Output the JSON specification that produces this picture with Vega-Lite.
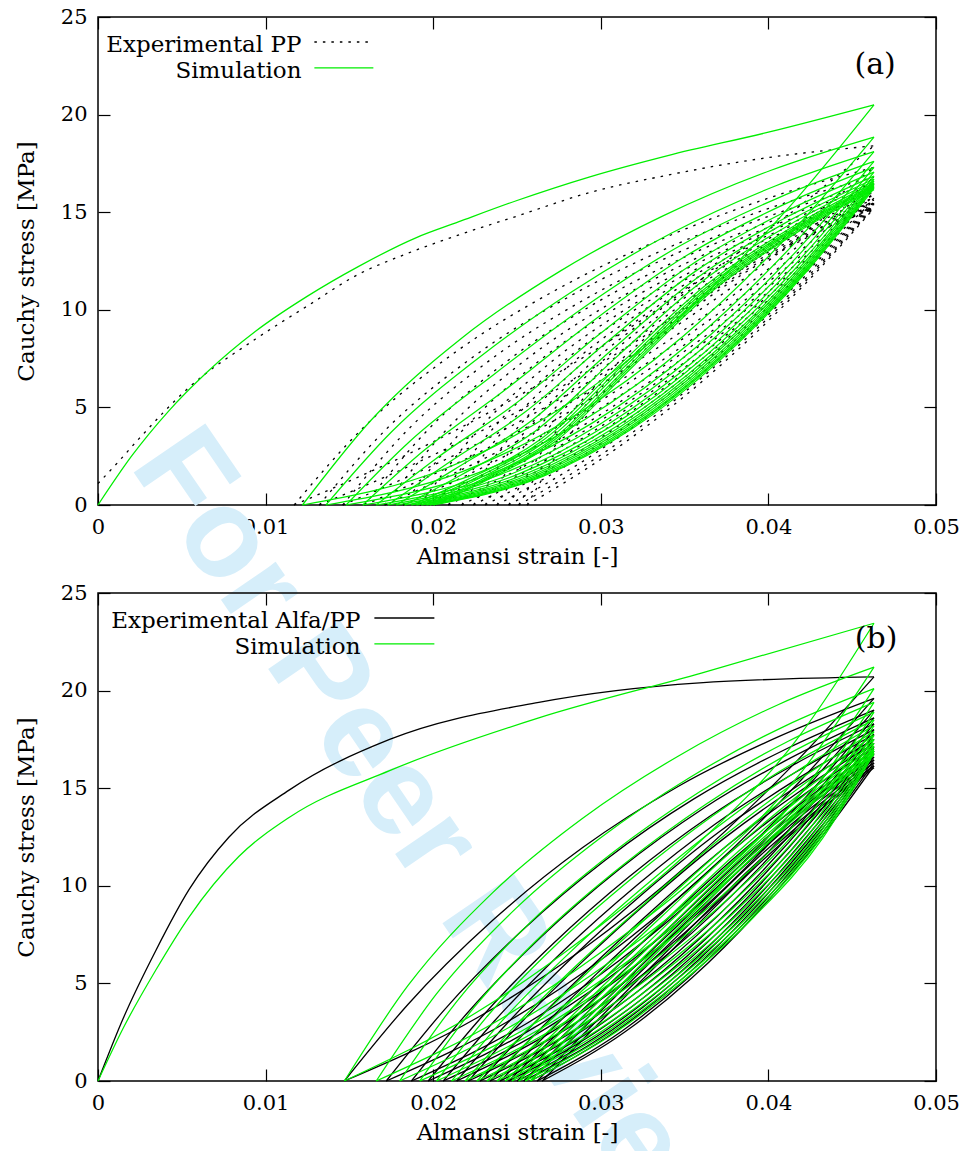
{
"$schema": "https://vega.github.io/schema/vega-lite/v6.json",
"background": "white",
"padding": {"left": 14, "top": 5, "right": 5, "bottom": 5},
"spacing": 88,
"bounds": "flush",
"config": {
  "view": {"stroke": "black", "strokeWidth": 1.5},
  "axis": {"grid": false, "domain": false, "ticks": true, "tickSize": -12, "tickColor": "black", "tickWidth": 1.2, "labelFont": "DejaVu Serif", "labelFontSize": 21, "labelColor": "black", "labelPadding": 23, "labelFlush": false, "titleFont": "DejaVu Serif", "titleFontSize": 23, "titleFontWeight": "normal", "titleColor": "black"},
  "text": {"font": "DejaVu Serif"}
},
"datasets": {
"a_sim": [
{"leg":0,"strain":0,"stress":0},{"leg":0,"strain":0.002,"stress":2.5},{"leg":0,"strain":0.0042,"stress":4.8},{"leg":0,"strain":0.0065,"stress":6.8},{"leg":0,"strain":0.0094,"stress":8.9},{"leg":0,"strain":0.0125,"stress":10.7},{"leg":0,"strain":0.0155,"stress":12.2},{"leg":0,"strain":0.019,"stress":13.7},{"leg":0,"strain":0.0215,"stress":14.5},{"leg":0,"strain":0.025,"stress":15.6},{"leg":0,"strain":0.0293,"stress":16.8},{"leg":0,"strain":0.034,"stress":17.9},{"leg":0,"strain":0.04,"stress":19.1},{"leg":0,"strain":0.0463,"stress":20.5},
{"leg":1,"strain":0.0463,"stress":20.5},{"leg":1,"strain":0.04119,"stress":15.21},{"leg":1,"strain":0.03437,"stress":9.37},{"leg":1,"strain":0.02755,"stress":4.92},{"leg":1,"strain":0.02073,"stress":1.87},{"leg":1,"strain":0.0122,"stress":0},
{"leg":2,"strain":0.0122,"stress":0},{"leg":2,"strain":0.01629,"stress":4.34},{"leg":2,"strain":0.02175,"stress":8.58},{"leg":2,"strain":0.02755,"stress":11.97},{"leg":2,"strain":0.03368,"stress":14.8},{"leg":2,"strain":0.04016,"stress":17.15},{"leg":2,"strain":0.0463,"stress":18.85},
{"leg":3,"strain":0.0463,"stress":18.85},{"leg":3,"strain":0.0414,"stress":13.99},{"leg":3,"strain":0.03486,"stress":8.61},{"leg":3,"strain":0.02832,"stress":4.52},{"leg":3,"strain":0.02178,"stress":1.72},{"leg":3,"strain":0.0136,"stress":0},
{"leg":4,"strain":0.0136,"stress":0},{"leg":4,"strain":0.01752,"stress":3.75},{"leg":4,"strain":0.02276,"stress":7.57},{"leg":4,"strain":0.02832,"stress":10.95},{"leg":4,"strain":0.0342,"stress":13.92},{"leg":4,"strain":0.04041,"stress":16.34},{"leg":4,"strain":0.0463,"stress":18.1},
{"leg":5,"strain":0.0463,"stress":18.1},{"leg":5,"strain":0.04158,"stress":13.43},{"leg":5,"strain":0.03528,"stress":8.27},{"leg":5,"strain":0.02898,"stress":4.34},{"leg":5,"strain":0.02268,"stress":1.65},{"leg":5,"strain":0.0148,"stress":0},
{"leg":6,"strain":0.0148,"stress":0},{"leg":6,"strain":0.01858,"stress":3.24},{"leg":6,"strain":0.02362,"stress":6.69},{"leg":6,"strain":0.02898,"stress":10.12},{"leg":6,"strain":0.03465,"stress":13.24},{"leg":6,"strain":0.04063,"stress":15.75},{"leg":6,"strain":0.0463,"stress":17.6},
{"leg":7,"strain":0.0463,"stress":17.6},{"leg":7,"strain":0.04173,"stress":13.06},{"leg":7,"strain":0.03563,"stress":8.04},{"leg":7,"strain":0.02953,"stress":4.22},{"leg":7,"strain":0.02343,"stress":1.6},{"leg":7,"strain":0.0158,"stress":0},
{"leg":8,"strain":0.0158,"stress":0},{"leg":8,"strain":0.01946,"stress":2.8},{"leg":8,"strain":0.02434,"stress":5.93},{"leg":8,"strain":0.02953,"stress":9.43},{"leg":8,"strain":0.03502,"stress":12.73},{"leg":8,"strain":0.04081,"stress":15.35},{"leg":8,"strain":0.0463,"stress":17.3},
{"leg":9,"strain":0.0463,"stress":17.3},{"leg":9,"strain":0.04185,"stress":12.84},{"leg":9,"strain":0.03591,"stress":7.91},{"leg":9,"strain":0.02997,"stress":4.15},{"leg":9,"strain":0.02403,"stress":1.57},{"leg":9,"strain":0.0166,"stress":0},
{"leg":10,"strain":0.0166,"stress":0},{"leg":10,"strain":0.02016,"stress":2.37},{"leg":10,"strain":0.02492,"stress":5.2},{"leg":10,"strain":0.02997,"stress":8.78},{"leg":10,"strain":0.03531,"stress":12.26},{"leg":10,"strain":0.04095,"stress":15.0},{"leg":10,"strain":0.0463,"stress":17.05},
{"leg":11,"strain":0.0463,"stress":17.05},{"leg":11,"strain":0.04195,"stress":12.65},{"leg":11,"strain":0.03615,"stress":7.79},{"leg":11,"strain":0.03035,"stress":4.09},{"leg":11,"strain":0.02455,"stress":1.55},{"leg":11,"strain":0.0173,"stress":0},
{"leg":12,"strain":0.0173,"stress":0},{"leg":12,"strain":0.02078,"stress":2.09},{"leg":12,"strain":0.02542,"stress":4.72},{"leg":12,"strain":0.03035,"stress":8.34},{"leg":12,"strain":0.03557,"stress":11.93},{"leg":12,"strain":0.04108,"stress":14.74},{"leg":12,"strain":0.0463,"stress":16.85},
{"leg":13,"strain":0.0463,"stress":16.85},{"leg":13,"strain":0.04203,"stress":12.5},{"leg":13,"strain":0.03633,"stress":7.7},{"leg":13,"strain":0.03063,"stress":4.04},{"leg":13,"strain":0.02493,"stress":1.53},{"leg":13,"strain":0.0178,"stress":0},
{"leg":14,"strain":0.0178,"stress":0},{"leg":14,"strain":0.02122,"stress":1.8},{"leg":14,"strain":0.02578,"stress":4.26},{"leg":14,"strain":0.03063,"stress":7.93},{"leg":14,"strain":0.03576,"stress":11.64},{"leg":14,"strain":0.04117,"stress":14.53},{"leg":14,"strain":0.0463,"stress":16.7},
{"leg":15,"strain":0.0463,"stress":16.7},{"leg":15,"strain":0.0421,"stress":12.39},{"leg":15,"strain":0.0365,"stress":7.63},{"leg":15,"strain":0.0309,"stress":4.01},{"leg":15,"strain":0.0253,"stress":1.52},{"leg":15,"strain":0.0183,"stress":0},
{"leg":16,"strain":0.0183,"stress":0},{"leg":16,"strain":0.02166,"stress":1.54},{"leg":16,"strain":0.02614,"stress":3.82},{"leg":16,"strain":0.0309,"stress":7.55},{"leg":16,"strain":0.03594,"stress":11.39},{"leg":16,"strain":0.04126,"stress":14.36},{"leg":16,"strain":0.0463,"stress":16.6},
{"leg":17,"strain":0.0463,"stress":16.6},{"leg":17,"strain":0.04216,"stress":12.32},{"leg":17,"strain":0.03664,"stress":7.59},{"leg":17,"strain":0.03112,"stress":3.98},{"leg":17,"strain":0.0256,"stress":1.51},{"leg":17,"strain":0.0187,"stress":0},
{"leg":18,"strain":0.0187,"stress":0},{"leg":18,"strain":0.02201,"stress":1.29},{"leg":18,"strain":0.02643,"stress":3.38},{"leg":18,"strain":0.03112,"stress":7.18},{"leg":18,"strain":0.03609,"stress":11.14},{"leg":18,"strain":0.04133,"stress":14.19},{"leg":18,"strain":0.0463,"stress":16.5},
{"leg":19,"strain":0.0463,"stress":16.5},{"leg":19,"strain":0.0422,"stress":12.24},{"leg":19,"strain":0.03675,"stress":7.54},{"leg":19,"strain":0.03129,"stress":3.96},{"leg":19,"strain":0.02583,"stress":1.5},{"leg":19,"strain":0.019,"stress":0},
{"leg":20,"strain":0.019,"stress":0},{"leg":20,"strain":0.02228,"stress":1.28},{"leg":20,"strain":0.02664,"stress":3.37},{"leg":20,"strain":0.03129,"stress":7.14},{"leg":20,"strain":0.0362,"stress":11.08},{"leg":20,"strain":0.04139,"stress":14.12},{"leg":20,"strain":0.0463,"stress":16.42},
{"leg":21,"strain":0.0463,"stress":16.42},{"leg":21,"strain":0.04225,"stress":12.18},{"leg":21,"strain":0.03685,"stress":7.5},{"leg":21,"strain":0.03145,"stress":3.94},{"leg":21,"strain":0.02605,"stress":1.49},{"leg":21,"strain":0.0193,"stress":0},
{"leg":22,"strain":0.0193,"stress":0},{"leg":22,"strain":0.02254,"stress":1.28},{"leg":22,"strain":0.02686,"stress":3.35},{"leg":22,"strain":0.03145,"stress":7.12},{"leg":22,"strain":0.03631,"stress":11.04},{"leg":22,"strain":0.04144,"stress":14.07},{"leg":22,"strain":0.0463,"stress":16.36},
{"leg":23,"strain":0.0463,"stress":16.36},{"leg":23,"strain":0.0423,"stress":12.14},{"leg":23,"strain":0.03696,"stress":7.48},{"leg":23,"strain":0.03162,"stress":3.93},{"leg":23,"strain":0.02628,"stress":1.49},{"leg":23,"strain":0.0196,"stress":0},
{"leg":24,"strain":0.0196,"stress":0},{"leg":24,"strain":0.0228,"stress":1.27},{"leg":24,"strain":0.02708,"stress":3.34},{"leg":24,"strain":0.03162,"stress":7.09},{"leg":24,"strain":0.03642,"stress":11.0},{"leg":24,"strain":0.04149,"stress":14.02},{"leg":24,"strain":0.0463,"stress":16.3},
{"leg":25,"strain":0.0463,"stress":16.3},{"leg":25,"strain":0.04233,"stress":12.09},{"leg":25,"strain":0.03703,"stress":7.45},{"leg":25,"strain":0.03173,"stress":3.91},{"leg":25,"strain":0.02643,"stress":1.48},{"leg":25,"strain":0.0198,"stress":0},
{"leg":26,"strain":0.0198,"stress":0},{"leg":26,"strain":0.02298,"stress":1.27},{"leg":26,"strain":0.02722,"stress":3.33},{"leg":26,"strain":0.03173,"stress":7.06},{"leg":26,"strain":0.0365,"stress":10.95},{"leg":26,"strain":0.04153,"stress":13.95},{"leg":26,"strain":0.0463,"stress":16.22},
{"leg":27,"strain":0.0463,"stress":16.22},{"leg":27,"strain":0.04236,"stress":12.04},{"leg":27,"strain":0.0371,"stress":7.41},{"leg":27,"strain":0.03184,"stress":3.89},{"leg":27,"strain":0.02658,"stress":1.48},{"leg":27,"strain":0.02,"stress":0},
{"leg":28,"strain":0.02,"stress":0},{"leg":28,"strain":0.02316,"stress":1.26},{"leg":28,"strain":0.02736,"stress":3.31},{"leg":28,"strain":0.03184,"stress":7.03},{"leg":28,"strain":0.03657,"stress":10.9},{"leg":28,"strain":0.04157,"stress":13.89},{"leg":28,"strain":0.0463,"stress":16.15}
],
"a_exp": [
{"leg":0,"strain":0,"stress":1.1},{"leg":0,"strain":0.0012,"stress":2.2},{"leg":0,"strain":0.00245,"stress":3.4},{"leg":0,"strain":0.0054,"stress":6.0},{"leg":0,"strain":0.0094,"stress":8.5},{"leg":0,"strain":0.0125,"stress":10.2},{"leg":0,"strain":0.0155,"stress":11.8},{"leg":0,"strain":0.0185,"stress":12.9},{"leg":0,"strain":0.0214,"stress":13.8},{"leg":0,"strain":0.025,"stress":14.8},{"leg":0,"strain":0.0293,"stress":16.0},{"leg":0,"strain":0.034,"stress":16.9},{"leg":0,"strain":0.04,"stress":17.8},{"leg":0,"strain":0.0463,"stress":18.4},
{"leg":1,"strain":0.0463,"stress":18.4},{"leg":1,"strain":0.04111,"stress":14.81},{"leg":1,"strain":0.03419,"stress":10.49},{"leg":1,"strain":0.02727,"stress":6.68},{"leg":1,"strain":0.02035,"stress":3.39},{"leg":1,"strain":0.0117,"stress":0},
{"leg":2,"strain":0.0117,"stress":0},{"leg":2,"strain":0.01585,"stress":3.98},{"leg":2,"strain":0.02139,"stress":7.87},{"leg":2,"strain":0.02727,"stress":10.99},{"leg":2,"strain":0.0335,"stress":13.58},{"leg":2,"strain":0.04007,"stress":15.74},{"leg":2,"strain":0.0463,"stress":17.3},
{"leg":3,"strain":0.0463,"stress":17.3},{"leg":3,"strain":0.04134,"stress":13.93},{"leg":3,"strain":0.03472,"stress":9.86},{"leg":3,"strain":0.0281,"stress":6.28},{"leg":3,"strain":0.02148,"stress":3.18},{"leg":3,"strain":0.0132,"stress":0},
{"leg":4,"strain":0.0132,"stress":0},{"leg":4,"strain":0.01717,"stress":3.86},{"leg":4,"strain":0.02247,"stress":7.64},{"leg":4,"strain":0.0281,"stress":10.67},{"leg":4,"strain":0.03405,"stress":13.19},{"leg":4,"strain":0.04034,"stress":15.29},{"leg":4,"strain":0.0463,"stress":16.8},
{"leg":5,"strain":0.0463,"stress":16.8},{"leg":5,"strain":0.04155,"stress":13.52},{"leg":5,"strain":0.0352,"stress":9.58},{"leg":5,"strain":0.02887,"stress":6.1},{"leg":5,"strain":0.02253,"stress":3.09},{"leg":5,"strain":0.0146,"stress":0},
{"leg":6,"strain":0.0146,"stress":0},{"leg":6,"strain":0.0184,"stress":3.78},{"leg":6,"strain":0.02348,"stress":7.48},{"leg":6,"strain":0.02887,"stress":10.45},{"leg":6,"strain":0.03457,"stress":12.91},{"leg":6,"strain":0.0406,"stress":14.97},{"leg":6,"strain":0.0463,"stress":16.45},
{"leg":7,"strain":0.0463,"stress":16.45},{"leg":7,"strain":0.04174,"stress":13.24},{"leg":7,"strain":0.03566,"stress":9.38},{"leg":7,"strain":0.02958,"stress":5.97},{"leg":7,"strain":0.0235,"stress":3.03},{"leg":7,"strain":0.0159,"stress":0},
{"leg":8,"strain":0.0159,"stress":0},{"leg":8,"strain":0.01955,"stress":3.73},{"leg":8,"strain":0.02441,"stress":7.37},{"leg":8,"strain":0.02958,"stress":10.29},{"leg":8,"strain":0.03505,"stress":12.72},{"leg":8,"strain":0.04083,"stress":14.74},{"leg":8,"strain":0.0463,"stress":16.2},
{"leg":9,"strain":0.0463,"stress":16.2},{"leg":9,"strain":0.04192,"stress":13.04},{"leg":9,"strain":0.03608,"stress":9.23},{"leg":9,"strain":0.03024,"stress":5.88},{"leg":9,"strain":0.0244,"stress":2.98},{"leg":9,"strain":0.0171,"stress":0},
{"leg":10,"strain":0.0171,"stress":0},{"leg":10,"strain":0.0206,"stress":3.68},{"leg":10,"strain":0.02528,"stress":7.28},{"leg":10,"strain":0.03024,"stress":10.16},{"leg":10,"strain":0.0355,"stress":12.56},{"leg":10,"strain":0.04104,"stress":14.56},{"leg":10,"strain":0.0463,"stress":16.0},
{"leg":11,"strain":0.0463,"stress":16.0},{"leg":11,"strain":0.04209,"stress":12.88},{"leg":11,"strain":0.03647,"stress":9.12},{"leg":11,"strain":0.03085,"stress":5.81},{"leg":11,"strain":0.02523,"stress":2.94},{"leg":11,"strain":0.0182,"stress":0},
{"leg":12,"strain":0.0182,"stress":0},{"leg":12,"strain":0.02157,"stress":3.65},{"leg":12,"strain":0.02607,"stress":7.21},{"leg":12,"strain":0.03085,"stress":10.06},{"leg":12,"strain":0.0359,"stress":12.44},{"leg":12,"strain":0.04124,"stress":14.42},{"leg":12,"strain":0.0463,"stress":15.85},
{"leg":13,"strain":0.0463,"stress":15.85},{"leg":13,"strain":0.04224,"stress":12.76},{"leg":13,"strain":0.03682,"stress":9.03},{"leg":13,"strain":0.0314,"stress":5.75},{"leg":13,"strain":0.02598,"stress":2.92},{"leg":13,"strain":0.0192,"stress":0},
{"leg":14,"strain":0.0192,"stress":0},{"leg":14,"strain":0.02245,"stress":3.62},{"leg":14,"strain":0.02679,"stress":7.15},{"leg":14,"strain":0.0314,"stress":9.98},{"leg":14,"strain":0.03627,"stress":12.34},{"leg":14,"strain":0.04142,"stress":14.31},{"leg":14,"strain":0.0463,"stress":15.72},
{"leg":15,"strain":0.0463,"stress":15.72},{"leg":15,"strain":0.04237,"stress":12.65},{"leg":15,"strain":0.03713,"stress":8.96},{"leg":15,"strain":0.03189,"stress":5.71},{"leg":15,"strain":0.02665,"stress":2.89},{"leg":15,"strain":0.0201,"stress":0},
{"leg":16,"strain":0.0201,"stress":0},{"leg":16,"strain":0.02324,"stress":3.59},{"leg":16,"strain":0.02744,"stress":7.11},{"leg":16,"strain":0.03189,"stress":9.92},{"leg":16,"strain":0.03661,"stress":12.26},{"leg":16,"strain":0.04158,"stress":14.21},{"leg":16,"strain":0.0463,"stress":15.62},
{"leg":17,"strain":0.0463,"stress":15.62},{"leg":17,"strain":0.04249,"stress":12.57},{"leg":17,"strain":0.03741,"stress":8.9},{"leg":17,"strain":0.03233,"stress":5.67},{"leg":17,"strain":0.02725,"stress":2.87},{"leg":17,"strain":0.0209,"stress":0},
{"leg":18,"strain":0.0209,"stress":0},{"leg":18,"strain":0.02395,"stress":3.57},{"leg":18,"strain":0.02801,"stress":7.07},{"leg":18,"strain":0.03233,"stress":9.86},{"leg":18,"strain":0.0369,"stress":12.19},{"leg":18,"strain":0.04173,"stress":14.13},{"leg":18,"strain":0.0463,"stress":15.53},
{"leg":19,"strain":0.0463,"stress":15.53},{"leg":19,"strain":0.04261,"stress":12.5},{"leg":19,"strain":0.03769,"stress":8.85},{"leg":19,"strain":0.03277,"stress":5.64},{"leg":19,"strain":0.02785,"stress":2.86},{"leg":19,"strain":0.0217,"stress":0},
{"leg":20,"strain":0.0217,"stress":0},{"leg":20,"strain":0.02465,"stress":3.56},{"leg":20,"strain":0.02859,"stress":7.03},{"leg":20,"strain":0.03277,"stress":9.82},{"leg":20,"strain":0.0372,"stress":12.14},{"leg":20,"strain":0.04187,"stress":14.07},{"leg":20,"strain":0.0463,"stress":15.46},
{"leg":21,"strain":0.0463,"stress":15.46},{"leg":21,"strain":0.04272,"stress":12.45},{"leg":21,"strain":0.03794,"stress":8.81},{"leg":21,"strain":0.03316,"stress":5.61},{"leg":21,"strain":0.02838,"stress":2.84},{"leg":21,"strain":0.0224,"stress":0},
{"leg":22,"strain":0.0224,"stress":0},{"leg":22,"strain":0.02527,"stress":3.54},{"leg":22,"strain":0.02909,"stress":7.01},{"leg":22,"strain":0.03316,"stress":9.78},{"leg":22,"strain":0.03746,"stress":12.09},{"leg":22,"strain":0.042,"stress":14.01},{"leg":22,"strain":0.0463,"stress":15.4},
{"leg":23,"strain":0.0463,"stress":15.4},{"leg":23,"strain":0.04282,"stress":12.4},{"leg":23,"strain":0.03818,"stress":8.78},{"leg":23,"strain":0.03354,"stress":5.59},{"leg":23,"strain":0.0289,"stress":2.83},{"leg":23,"strain":0.0231,"stress":0},
{"leg":24,"strain":0.0231,"stress":0},{"leg":24,"strain":0.02588,"stress":3.53},{"leg":24,"strain":0.0296,"stress":6.98},{"leg":24,"strain":0.03354,"stress":9.74},{"leg":24,"strain":0.03772,"stress":12.04},{"leg":24,"strain":0.04212,"stress":13.96},{"leg":24,"strain":0.0463,"stress":15.34},
{"leg":25,"strain":0.0463,"stress":15.34},{"leg":25,"strain":0.04293,"stress":12.35},{"leg":25,"strain":0.03843,"stress":8.74},{"leg":25,"strain":0.03393,"stress":5.57},{"leg":25,"strain":0.02943,"stress":2.82},{"leg":25,"strain":0.0238,"stress":0},
{"leg":26,"strain":0.0238,"stress":0},{"leg":26,"strain":0.0265,"stress":3.51},{"leg":26,"strain":0.0301,"stress":6.95},{"leg":26,"strain":0.03393,"stress":9.7},{"leg":26,"strain":0.03798,"stress":11.99},{"leg":26,"strain":0.04225,"stress":13.9},{"leg":26,"strain":0.0463,"stress":15.28},
{"leg":27,"strain":0.0463,"stress":15.28},{"leg":27,"strain":0.04303,"stress":12.3},{"leg":27,"strain":0.03867,"stress":8.71},{"leg":27,"strain":0.03431,"stress":5.55},{"leg":27,"strain":0.02995,"stress":2.81},{"leg":27,"strain":0.0245,"stress":0},
{"leg":28,"strain":0.0245,"stress":0},{"leg":28,"strain":0.02712,"stress":3.51},{"leg":28,"strain":0.0306,"stress":6.93},{"leg":28,"strain":0.03431,"stress":9.68},{"leg":28,"strain":0.03823,"stress":11.96},{"leg":28,"strain":0.04238,"stress":13.87},{"leg":28,"strain":0.0463,"stress":15.24},
{"leg":29,"strain":0.0463,"stress":15.24},{"leg":29,"strain":0.04312,"stress":12.27},{"leg":29,"strain":0.03888,"stress":8.69},{"leg":29,"strain":0.03464,"stress":5.53},{"leg":29,"strain":0.0304,"stress":2.8},{"leg":29,"strain":0.0251,"stress":0},
{"leg":30,"strain":0.0251,"stress":0},{"leg":30,"strain":0.02764,"stress":3.5},{"leg":30,"strain":0.03104,"stress":6.92},{"leg":30,"strain":0.03464,"stress":9.65},{"leg":30,"strain":0.03846,"stress":11.93},{"leg":30,"strain":0.04248,"stress":13.83},{"leg":30,"strain":0.0463,"stress":15.2},
{"leg":31,"strain":0.0463,"stress":15.2},{"leg":31,"strain":0.0432,"stress":12.24},{"leg":31,"strain":0.03906,"stress":8.66},{"leg":31,"strain":0.03492,"stress":5.52},{"leg":31,"strain":0.03078,"stress":2.8},{"leg":31,"strain":0.0256,"stress":0},
{"leg":32,"strain":0.0256,"stress":0},{"leg":32,"strain":0.02808,"stress":3.49},{"leg":32,"strain":0.0314,"stress":6.91},{"leg":32,"strain":0.03492,"stress":9.64},{"leg":32,"strain":0.03864,"stress":11.92},{"leg":32,"strain":0.04257,"stress":13.81},{"leg":32,"strain":0.0463,"stress":15.18}
],
"b_exp": [
{"leg":0,"strain":0,"stress":0},{"leg":0,"strain":0.0015,"stress":3.2},{"leg":0,"strain":0.00346,"stress":6.7},{"leg":0,"strain":0.00543,"stress":9.8},{"leg":0,"strain":0.00782,"stress":12.5},{"leg":0,"strain":0.0114,"stress":14.9},{"leg":0,"strain":0.0174,"stress":17.5},{"leg":0,"strain":0.0263,"stress":19.4},{"leg":0,"strain":0.0359,"stress":20.4},{"leg":0,"strain":0.0463,"stress":20.7},
{"leg":1,"strain":0.0463,"stress":20.7},{"leg":1,"strain":0.04156,"stress":16.27},{"leg":1,"strain":0.03524,"stress":11.1},{"leg":1,"strain":0.02892,"stress":6.75},{"leg":1,"strain":0.0226,"stress":3.23},{"leg":1,"strain":0.0147,"stress":0},
{"leg":2,"strain":0.0147,"stress":0},{"leg":2,"strain":0.01849,"stress":3.92},{"leg":2,"strain":0.02355,"stress":8.23},{"leg":2,"strain":0.02892,"stress":11.96},{"leg":2,"strain":0.03461,"stress":15.09},{"leg":2,"strain":0.04061,"stress":17.64},{"leg":2,"strain":0.0463,"stress":19.6},
{"leg":3,"strain":0.0463,"stress":19.6},{"leg":3,"strain":0.04194,"stress":15.41},{"leg":3,"strain":0.03612,"stress":10.51},{"leg":3,"strain":0.0303,"stress":6.39},{"leg":3,"strain":0.02448,"stress":3.06},{"leg":3,"strain":0.0172,"stress":0},
{"leg":4,"strain":0.0172,"stress":0},{"leg":4,"strain":0.02069,"stress":3.67},{"leg":4,"strain":0.02535,"stress":7.75},{"leg":4,"strain":0.0303,"stress":11.34},{"leg":4,"strain":0.03553,"stress":14.44},{"leg":4,"strain":0.04106,"stress":17.01},{"leg":4,"strain":0.0463,"stress":19.0},
{"leg":5,"strain":0.0463,"stress":19.0},{"leg":5,"strain":0.04216,"stress":14.93},{"leg":5,"strain":0.03664,"stress":10.18},{"leg":5,"strain":0.03112,"stress":6.19},{"leg":5,"strain":0.0256,"stress":2.96},{"leg":5,"strain":0.0187,"stress":0},
{"leg":6,"strain":0.0187,"stress":0},{"leg":6,"strain":0.02201,"stress":3.46},{"leg":6,"strain":0.02643,"stress":7.37},{"leg":6,"strain":0.03112,"stress":10.86},{"leg":6,"strain":0.03609,"stress":13.95},{"leg":6,"strain":0.04133,"stress":16.55},{"leg":6,"strain":0.0463,"stress":18.6},
{"leg":7,"strain":0.0463,"stress":18.6},{"leg":7,"strain":0.04231,"stress":14.62},{"leg":7,"strain":0.03699,"stress":9.97},{"leg":7,"strain":0.03167,"stress":6.06},{"leg":7,"strain":0.02635,"stress":2.9},{"leg":7,"strain":0.0197,"stress":0},
{"leg":8,"strain":0.0197,"stress":0},{"leg":8,"strain":0.02289,"stress":3.28},{"leg":8,"strain":0.02715,"stress":7.03},{"leg":8,"strain":0.03167,"stress":10.45},{"leg":8,"strain":0.03646,"stress":13.54},{"leg":8,"strain":0.04151,"stress":16.2},{"leg":8,"strain":0.0463,"stress":18.3},
{"leg":9,"strain":0.0463,"stress":18.3},{"leg":9,"strain":0.04245,"stress":14.38},{"leg":9,"strain":0.03731,"stress":9.81},{"leg":9,"strain":0.03217,"stress":5.97},{"leg":9,"strain":0.02703,"stress":2.85},{"leg":9,"strain":0.0206,"stress":0},
{"leg":10,"strain":0.0206,"stress":0},{"leg":10,"strain":0.02368,"stress":3.1},{"leg":10,"strain":0.0278,"stress":6.7},{"leg":10,"strain":0.03217,"stress":10.04},{"leg":10,"strain":0.03679,"stress":13.14},{"leg":10,"strain":0.04167,"stress":15.84},{"leg":10,"strain":0.0463,"stress":18.0},
{"leg":11,"strain":0.0463,"stress":18.0},{"leg":11,"strain":0.04257,"stress":14.15},{"leg":11,"strain":0.03759,"stress":9.65},{"leg":11,"strain":0.03261,"stress":5.87},{"leg":11,"strain":0.02763,"stress":2.81},{"leg":11,"strain":0.0214,"stress":0},
{"leg":12,"strain":0.0214,"stress":0},{"leg":12,"strain":0.02439,"stress":2.93},{"leg":12,"strain":0.02837,"stress":6.39},{"leg":12,"strain":0.03261,"stress":9.67},{"leg":12,"strain":0.03709,"stress":12.78},{"leg":12,"strain":0.04182,"stress":15.53},{"leg":12,"strain":0.0463,"stress":17.75},
{"leg":13,"strain":0.0463,"stress":17.75},{"leg":13,"strain":0.04267,"stress":13.95},{"leg":13,"strain":0.03783,"stress":9.51},{"leg":13,"strain":0.03299,"stress":5.79},{"leg":13,"strain":0.02815,"stress":2.77},{"leg":13,"strain":0.0221,"stress":0},
{"leg":14,"strain":0.0221,"stress":0},{"leg":14,"strain":0.025,"stress":2.77},{"leg":14,"strain":0.02888,"stress":6.09},{"leg":14,"strain":0.03299,"stress":9.31},{"leg":14,"strain":0.03735,"stress":12.43},{"leg":14,"strain":0.04194,"stress":15.23},{"leg":14,"strain":0.0463,"stress":17.5},
{"leg":15,"strain":0.0463,"stress":17.5},{"leg":15,"strain":0.04278,"stress":13.76},{"leg":15,"strain":0.03808,"stress":9.38},{"leg":15,"strain":0.03338,"stress":5.71},{"leg":15,"strain":0.02868,"stress":2.73},{"leg":15,"strain":0.0228,"stress":0},
{"leg":16,"strain":0.0228,"stress":0},{"leg":16,"strain":0.02562,"stress":2.61},{"leg":16,"strain":0.02938,"stress":5.81},{"leg":16,"strain":0.03338,"stress":8.98},{"leg":16,"strain":0.03761,"stress":12.11},{"leg":16,"strain":0.04207,"stress":14.96},{"leg":16,"strain":0.0463,"stress":17.3},
{"leg":17,"strain":0.0463,"stress":17.3},{"leg":17,"strain":0.04287,"stress":13.6},{"leg":17,"strain":0.03829,"stress":9.27},{"leg":17,"strain":0.03371,"stress":5.64},{"leg":17,"strain":0.02913,"stress":2.7},{"leg":17,"strain":0.0234,"stress":0},
{"leg":18,"strain":0.0234,"stress":0},{"leg":18,"strain":0.02615,"stress":2.46},{"leg":18,"strain":0.02981,"stress":5.54},{"leg":18,"strain":0.03371,"stress":8.65},{"leg":18,"strain":0.03783,"stress":11.8},{"leg":18,"strain":0.04218,"stress":14.71},{"leg":18,"strain":0.0463,"stress":17.1},
{"leg":19,"strain":0.0463,"stress":17.1},{"leg":19,"strain":0.04296,"stress":13.44},{"leg":19,"strain":0.0385,"stress":9.17},{"leg":19,"strain":0.03404,"stress":5.57},{"leg":19,"strain":0.02958,"stress":2.67},{"leg":19,"strain":0.024,"stress":0},
{"leg":20,"strain":0.024,"stress":0},{"leg":20,"strain":0.02668,"stress":2.32},{"leg":20,"strain":0.03024,"stress":5.27},{"leg":20,"strain":0.03404,"stress":8.33},{"leg":20,"strain":0.03805,"stress":11.49},{"leg":20,"strain":0.04229,"stress":14.45},{"leg":20,"strain":0.0463,"stress":16.9},
{"leg":21,"strain":0.0463,"stress":16.9},{"leg":21,"strain":0.04303,"stress":13.28},{"leg":21,"strain":0.03867,"stress":9.06},{"leg":21,"strain":0.03431,"stress":5.51},{"leg":21,"strain":0.02995,"stress":2.64},{"leg":21,"strain":0.0245,"stress":0},
{"leg":22,"strain":0.0245,"stress":0},{"leg":22,"strain":0.02712,"stress":2.18},{"leg":22,"strain":0.0306,"stress":5.03},{"leg":22,"strain":0.03431,"stress":8.04},{"leg":22,"strain":0.03823,"stress":11.22},{"leg":22,"strain":0.04238,"stress":14.24},{"leg":22,"strain":0.0463,"stress":16.75},
{"leg":23,"strain":0.0463,"stress":16.75},{"leg":23,"strain":0.04311,"stress":13.17},{"leg":23,"strain":0.03885,"stress":8.98},{"leg":23,"strain":0.03459,"stress":5.46},{"leg":23,"strain":0.03033,"stress":2.61},{"leg":23,"strain":0.025,"stress":0},
{"leg":24,"strain":0.025,"stress":0},{"leg":24,"strain":0.02756,"stress":2.16},{"leg":24,"strain":0.03096,"stress":4.98},{"leg":24,"strain":0.03459,"stress":7.97},{"leg":24,"strain":0.03842,"stress":11.12},{"leg":24,"strain":0.04247,"stress":14.11},{"leg":24,"strain":0.0463,"stress":16.6},
{"leg":25,"strain":0.0463,"stress":16.6},{"leg":25,"strain":0.04317,"stress":13.05},{"leg":25,"strain":0.03899,"stress":8.9},{"leg":25,"strain":0.0348,"stress":5.41},{"leg":25,"strain":0.03063,"stress":2.59},{"leg":25,"strain":0.0254,"stress":0},
{"leg":26,"strain":0.0254,"stress":0},{"leg":26,"strain":0.02791,"stress":2.14},{"leg":26,"strain":0.03125,"stress":4.94},{"leg":26,"strain":0.0348,"stress":7.9},{"leg":26,"strain":0.03857,"stress":11.02},{"leg":26,"strain":0.04254,"stress":13.98},{"leg":26,"strain":0.0463,"stress":16.45},
{"leg":27,"strain":0.0463,"stress":16.45},{"leg":27,"strain":0.04323,"stress":12.93},{"leg":27,"strain":0.03913,"stress":8.82},{"leg":27,"strain":0.03503,"stress":5.36},{"leg":27,"strain":0.03093,"stress":2.57},{"leg":27,"strain":0.0258,"stress":0},
{"leg":28,"strain":0.0258,"stress":0},{"leg":28,"strain":0.02826,"stress":2.12},{"leg":28,"strain":0.03154,"stress":4.89},{"leg":28,"strain":0.03503,"stress":7.82},{"leg":28,"strain":0.03872,"stress":10.92},{"leg":28,"strain":0.04261,"stress":13.86},{"leg":28,"strain":0.0463,"stress":16.3},
{"leg":29,"strain":0.0463,"stress":16.3},{"leg":29,"strain":0.04329,"stress":12.81},{"leg":29,"strain":0.03927,"stress":8.74},{"leg":29,"strain":0.03525,"stress":5.31},{"leg":29,"strain":0.03123,"stress":2.54},{"leg":29,"strain":0.0262,"stress":0},
{"leg":30,"strain":0.0262,"stress":0},{"leg":30,"strain":0.02861,"stress":2.1},{"leg":30,"strain":0.03183,"stress":4.85},{"leg":30,"strain":0.03525,"stress":7.75},{"leg":30,"strain":0.03886,"stress":10.82},{"leg":30,"strain":0.04268,"stress":13.73},{"leg":30,"strain":0.0463,"stress":16.15},
{"leg":31,"strain":0.0463,"stress":16.15},{"leg":31,"strain":0.04333,"stress":12.69},{"leg":31,"strain":0.03937,"stress":8.66},{"leg":31,"strain":0.03541,"stress":5.26},{"leg":31,"strain":0.03145,"stress":2.52},{"leg":31,"strain":0.0265,"stress":0},
{"leg":32,"strain":0.0265,"stress":0},{"leg":32,"strain":0.02888,"stress":2.09},{"leg":32,"strain":0.03204,"stress":4.82},{"leg":32,"strain":0.03541,"stress":7.7},{"leg":32,"strain":0.03897,"stress":10.75},{"leg":32,"strain":0.04274,"stress":13.64},{"leg":32,"strain":0.0463,"stress":16.05}
],
"b_sim": [
{"leg":0,"strain":0,"stress":0},{"leg":0,"strain":0.0015,"stress":2.7},{"leg":0,"strain":0.00346,"stress":5.7},{"leg":0,"strain":0.00543,"stress":8.4},{"leg":0,"strain":0.0084,"stress":11.5},{"leg":0,"strain":0.0114,"stress":13.5},{"leg":0,"strain":0.0174,"stress":15.9},{"leg":0,"strain":0.0263,"stress":18.6},{"leg":0,"strain":0.036,"stress":20.9},{"leg":0,"strain":0.0463,"stress":23.45},
{"leg":1,"strain":0.0463,"stress":23.45},{"leg":1,"strain":0.04156,"stress":17.35},{"leg":1,"strain":0.03524,"stress":11.73},{"leg":1,"strain":0.02892,"stress":7.27},{"leg":1,"strain":0.0226,"stress":3.52},{"leg":1,"strain":0.0147,"stress":0},
{"leg":2,"strain":0.0147,"stress":0},{"leg":2,"strain":0.01849,"stress":4.88},{"leg":2,"strain":0.02355,"stress":9.65},{"leg":2,"strain":0.02892,"stress":13.46},{"leg":2,"strain":0.03461,"stress":16.64},{"leg":2,"strain":0.04061,"stress":19.29},{"leg":2,"strain":0.0463,"stress":21.2},
{"leg":3,"strain":0.0463,"stress":21.2},{"leg":3,"strain":0.04185,"stress":15.69},{"leg":3,"strain":0.03591,"stress":10.6},{"leg":3,"strain":0.02997,"stress":6.57},{"leg":3,"strain":0.02403,"stress":3.18},{"leg":3,"strain":0.0166,"stress":0},
{"leg":4,"strain":0.0166,"stress":0},{"leg":4,"strain":0.02016,"stress":4.42},{"leg":4,"strain":0.02492,"stress":8.83},{"leg":4,"strain":0.02997,"stress":12.45},{"leg":4,"strain":0.03531,"stress":15.55},{"leg":4,"strain":0.04095,"stress":18.17},{"leg":4,"strain":0.0463,"stress":20.1},
{"leg":5,"strain":0.0463,"stress":20.1},{"leg":5,"strain":0.04206,"stress":14.87},{"leg":5,"strain":0.0364,"stress":10.05},{"leg":5,"strain":0.03074,"stress":6.23},{"leg":5,"strain":0.02508,"stress":3.02},{"leg":5,"strain":0.018,"stress":0},
{"leg":6,"strain":0.018,"stress":0},{"leg":6,"strain":0.0214,"stress":4.07},{"leg":6,"strain":0.02592,"stress":8.23},{"leg":6,"strain":0.03074,"stress":11.72},{"leg":6,"strain":0.03583,"stress":14.78},{"leg":6,"strain":0.04121,"stress":17.42},{"leg":6,"strain":0.0463,"stress":19.4},
{"leg":7,"strain":0.0463,"stress":19.4},{"leg":7,"strain":0.04224,"stress":14.36},{"leg":7,"strain":0.03682,"stress":9.7},{"leg":7,"strain":0.0314,"stress":6.01},{"leg":7,"strain":0.02598,"stress":2.91},{"leg":7,"strain":0.0192,"stress":0},
{"leg":8,"strain":0.0192,"stress":0},{"leg":8,"strain":0.02245,"stress":3.78},{"leg":8,"strain":0.02679,"stress":7.72},{"leg":8,"strain":0.0314,"stress":11.12},{"leg":8,"strain":0.03627,"stress":14.18},{"leg":8,"strain":0.04142,"stress":16.86},{"leg":8,"strain":0.0463,"stress":18.9},
{"leg":9,"strain":0.0463,"stress":18.9},{"leg":9,"strain":0.04239,"stress":13.99},{"leg":9,"strain":0.03717,"stress":9.45},{"leg":9,"strain":0.03195,"stress":5.86},{"leg":9,"strain":0.02673,"stress":2.84},{"leg":9,"strain":0.0202,"stress":0},
{"leg":10,"strain":0.0202,"stress":0},{"leg":10,"strain":0.02333,"stress":3.42},{"leg":10,"strain":0.02751,"stress":7.12},{"leg":10,"strain":0.03195,"stress":10.45},{"leg":10,"strain":0.03664,"stress":13.56},{"leg":10,"strain":0.0416,"stress":16.34},{"leg":10,"strain":0.0463,"stress":18.5},
{"leg":11,"strain":0.0463,"stress":18.5},{"leg":11,"strain":0.04252,"stress":13.69},{"leg":11,"strain":0.03748,"stress":9.25},{"leg":11,"strain":0.03244,"stress":5.74},{"leg":11,"strain":0.0274,"stress":2.78},{"leg":11,"strain":0.0211,"stress":0},
{"leg":12,"strain":0.0211,"stress":0},{"leg":12,"strain":0.02412,"stress":3.09},{"leg":12,"strain":0.02816,"stress":6.59},{"leg":12,"strain":0.03244,"stress":9.86},{"leg":12,"strain":0.03698,"stress":13.03},{"leg":12,"strain":0.04176,"stress":15.91},{"leg":12,"strain":0.0463,"stress":18.2},
{"leg":13,"strain":0.0463,"stress":18.2},{"leg":13,"strain":0.04264,"stress":13.47},{"leg":13,"strain":0.03776,"stress":9.1},{"leg":13,"strain":0.03288,"stress":5.64},{"leg":13,"strain":0.028,"stress":2.73},{"leg":13,"strain":0.0219,"stress":0},
{"leg":14,"strain":0.0219,"stress":0},{"leg":14,"strain":0.02483,"stress":2.77},{"leg":14,"strain":0.02873,"stress":6.07},{"leg":14,"strain":0.03288,"stress":9.29},{"leg":14,"strain":0.03727,"stress":12.51},{"leg":14,"strain":0.04191,"stress":15.48},{"leg":14,"strain":0.0463,"stress":17.9},
{"leg":15,"strain":0.0463,"stress":17.9},{"leg":15,"strain":0.04275,"stress":13.25},{"leg":15,"strain":0.03801,"stress":8.95},{"leg":15,"strain":0.03327,"stress":5.55},{"leg":15,"strain":0.02853,"stress":2.69},{"leg":15,"strain":0.0226,"stress":0},
{"leg":16,"strain":0.0226,"stress":0},{"leg":16,"strain":0.02544,"stress":2.48},{"leg":16,"strain":0.02924,"stress":5.58},{"leg":16,"strain":0.03327,"stress":8.77},{"leg":16,"strain":0.03753,"stress":12.06},{"leg":16,"strain":0.04203,"stress":15.15},{"leg":16,"strain":0.0463,"stress":17.7},
{"leg":17,"strain":0.0463,"stress":17.7},{"leg":17,"strain":0.04284,"stress":13.1},{"leg":17,"strain":0.03822,"stress":8.85},{"leg":17,"strain":0.0336,"stress":5.49},{"leg":17,"strain":0.02898,"stress":2.66},{"leg":17,"strain":0.0232,"stress":0},
{"leg":18,"strain":0.0232,"stress":0},{"leg":18,"strain":0.02597,"stress":2.28},{"leg":18,"strain":0.02967,"stress":5.25},{"leg":18,"strain":0.0336,"stress":8.4},{"leg":18,"strain":0.03775,"stress":11.73},{"leg":18,"strain":0.04214,"stress":14.88},{"leg":18,"strain":0.0463,"stress":17.5},
{"leg":19,"strain":0.0463,"stress":17.5},{"leg":19,"strain":0.04293,"stress":12.95},{"leg":19,"strain":0.03843,"stress":8.75},{"leg":19,"strain":0.03393,"stress":5.43},{"leg":19,"strain":0.02943,"stress":2.63},{"leg":19,"strain":0.0238,"stress":0},
{"leg":20,"strain":0.0238,"stress":0},{"leg":20,"strain":0.0265,"stress":2.25},{"leg":20,"strain":0.0301,"stress":5.19},{"leg":20,"strain":0.03393,"stress":8.3},{"leg":20,"strain":0.03798,"stress":11.59},{"leg":20,"strain":0.04225,"stress":14.71},{"leg":20,"strain":0.0463,"stress":17.3},
{"leg":21,"strain":0.0463,"stress":17.3},{"leg":21,"strain":0.043,"stress":12.8},{"leg":21,"strain":0.0386,"stress":8.65},{"leg":21,"strain":0.0342,"stress":5.36},{"leg":21,"strain":0.0298,"stress":2.6},{"leg":21,"strain":0.0243,"stress":0},
{"leg":22,"strain":0.0243,"stress":0},{"leg":22,"strain":0.02694,"stress":2.23},{"leg":22,"strain":0.03046,"stress":5.15},{"leg":22,"strain":0.0342,"stress":8.23},{"leg":22,"strain":0.03816,"stress":11.49},{"leg":22,"strain":0.04234,"stress":14.58},{"leg":22,"strain":0.0463,"stress":17.15},
{"leg":23,"strain":0.0463,"stress":17.15},{"leg":23,"strain":0.04306,"stress":12.69},{"leg":23,"strain":0.03874,"stress":8.58},{"leg":23,"strain":0.03442,"stress":5.32},{"leg":23,"strain":0.0301,"stress":2.57},{"leg":23,"strain":0.0247,"stress":0},
{"leg":24,"strain":0.0247,"stress":0},{"leg":24,"strain":0.02729,"stress":2.21},{"leg":24,"strain":0.03075,"stress":5.1},{"leg":24,"strain":0.03442,"stress":8.16},{"leg":24,"strain":0.03831,"stress":11.39},{"leg":24,"strain":0.04241,"stress":14.45},{"leg":24,"strain":0.0463,"stress":17.0},
{"leg":25,"strain":0.0463,"stress":17.0},{"leg":25,"strain":0.04312,"stress":12.58},{"leg":25,"strain":0.03888,"stress":8.5},{"leg":25,"strain":0.03464,"stress":5.27},{"leg":25,"strain":0.0304,"stress":2.55},{"leg":25,"strain":0.0251,"stress":0},
{"leg":26,"strain":0.0251,"stress":0},{"leg":26,"strain":0.02764,"stress":2.2},{"leg":26,"strain":0.03104,"stress":5.07},{"leg":26,"strain":0.03464,"stress":8.11},{"leg":26,"strain":0.03846,"stress":11.32},{"leg":26,"strain":0.04248,"stress":14.37},{"leg":26,"strain":0.0463,"stress":16.9},
{"leg":27,"strain":0.0463,"stress":16.9},{"leg":27,"strain":0.04318,"stress":12.51},{"leg":27,"strain":0.03902,"stress":8.45},{"leg":27,"strain":0.03486,"stress":5.24},{"leg":27,"strain":0.0307,"stress":2.54},{"leg":27,"strain":0.0255,"stress":0},
{"leg":28,"strain":0.0255,"stress":0},{"leg":28,"strain":0.028,"stress":2.18},{"leg":28,"strain":0.03132,"stress":5.04},{"leg":28,"strain":0.03486,"stress":8.06},{"leg":28,"strain":0.0386,"stress":11.26},{"leg":28,"strain":0.04256,"stress":14.28},{"leg":28,"strain":0.0463,"stress":16.8},
{"leg":29,"strain":0.0463,"stress":16.8},{"leg":29,"strain":0.04323,"stress":12.43},{"leg":29,"strain":0.03913,"stress":8.4},{"leg":29,"strain":0.03503,"stress":5.21},{"leg":29,"strain":0.03093,"stress":2.52},{"leg":29,"strain":0.0258,"stress":0},
{"leg":30,"strain":0.0258,"stress":0},{"leg":30,"strain":0.02826,"stress":2.17},{"leg":30,"strain":0.03154,"stress":5.01},{"leg":30,"strain":0.03503,"stress":8.02},{"leg":30,"strain":0.03872,"stress":11.19},{"leg":30,"strain":0.04261,"stress":14.2},{"leg":30,"strain":0.0463,"stress":16.7}
]
},
"vconcat": [
{
  "width": 838, "height": 488,
  "resolve": {"axis": {"x": "independent", "y": "independent"}},
  "layer": [
    {
      "data": {"values": [{"label": "For Peer Review", "strain": 0.02025, "stress": -17.6}]},
      "mark": {"type": "text", "font": "Liberation Sans", "fontWeight": "bold", "fontSize": 126, "angle": 55.6, "color": "#d6eefa", "align": "center", "baseline": "middle"},
      "encoding": {
        "x": {"field": "strain", "type": "quantitative", "scale": {"domain": [0, 0.05], "nice": false}, "axis": null},
        "y": {"field": "stress", "type": "quantitative", "scale": {"domain": [0, 25], "nice": false}, "axis": null},
        "text": {"field": "label"}
      }
    },
    {
      "data": {"name": "a_exp"},
      "mark": {"type": "line", "color": "black", "strokeWidth": 1.3, "strokeDash": [2.5, 6], "interpolate": "monotone"},
      "encoding": {
        "x": {"field": "strain", "type": "quantitative", "scale": {"domain": [0, 0.05], "nice": false}, "axis": {"orient": "bottom", "values": [0, 0.01, 0.02, 0.03, 0.04, 0.05], "format": "~g", "title": "Almansi strain [-]", "titlePadding": 8}},
        "y": {"field": "stress", "type": "quantitative", "scale": {"domain": [0, 25], "nice": false}, "axis": {"orient": "left", "values": [0, 5, 10, 15, 20, 25], "format": "~g", "title": "Cauchy stress [MPa]", "titlePadding": 22}},
        "detail": {"field": "leg", "type": "nominal"}
      }
    },
    {
      "data": {"name": "a_sim"},
      "mark": {"type": "line", "color": "#00ee00", "strokeWidth": 1.25, "interpolate": "monotone"},
      "encoding": {
        "x": {"field": "strain", "type": "quantitative", "scale": {"domain": [0, 0.05], "nice": false}, "axis": {"orient": "top", "values": [0, 0.01, 0.02, 0.03, 0.04, 0.05], "labels": false, "title": null}},
        "y": {"field": "stress", "type": "quantitative", "scale": {"domain": [0, 25], "nice": false}, "axis": {"orient": "right", "values": [0, 5, 10, 15, 20, 25], "labels": false, "title": null}},
        "detail": {"field": "leg", "type": "nominal"}
      }
    },
    {
      "data": {"values": [{"label": "Experimental PP", "strain": 0.01214, "stress": 23.2}, {"label": "Simulation", "strain": 0.01214, "stress": 21.88}]},
      "mark": {"type": "text", "align": "right", "baseline": "alphabetic", "fontSize": 23, "color": "black"},
      "encoding": {
        "x": {"field": "strain", "type": "quantitative", "scale": {"domain": [0, 0.05], "nice": false}, "axis": null},
        "y": {"field": "stress", "type": "quantitative", "scale": {"domain": [0, 25], "nice": false}, "axis": null},
        "text": {"field": "label"}
      }
    },
    {
      "data": {"values": [{"strain": 0.01291, "strain2": 0.01643, "stress": 23.72}]},
      "mark": {"type": "rule", "color": "black", "strokeWidth": 1.3, "strokeDash": [2.5, 6]},
      "encoding": {
        "x": {"field": "strain", "type": "quantitative", "scale": {"domain": [0, 0.05], "nice": false}, "axis": null},
        "x2": {"field": "strain2"},
        "y": {"field": "stress", "type": "quantitative", "scale": {"domain": [0, 25], "nice": false}, "axis": null}
      }
    },
    {
      "data": {"values": [{"strain": 0.01291, "strain2": 0.01643, "stress": 22.39}]},
      "mark": {"type": "rule", "color": "#00ee00", "strokeWidth": 1.25},
      "encoding": {
        "x": {"field": "strain", "type": "quantitative", "scale": {"domain": [0, 0.05], "nice": false}, "axis": null},
        "x2": {"field": "strain2"},
        "y": {"field": "stress", "type": "quantitative", "scale": {"domain": [0, 25], "nice": false}, "axis": null}
      }
    },
    {
      "data": {"values": [{"label": "(a)", "strain": 0.04637, "stress": 22.08}]},
      "mark": {"type": "text", "align": "center", "baseline": "alphabetic", "fontSize": 30, "color": "black"},
      "encoding": {
        "x": {"field": "strain", "type": "quantitative", "scale": {"domain": [0, 0.05], "nice": false}, "axis": null},
        "y": {"field": "stress", "type": "quantitative", "scale": {"domain": [0, 25], "nice": false}, "axis": null},
        "text": {"field": "label"}
      }
    }
  ]
},
{
  "width": 838, "height": 488,
  "resolve": {"axis": {"x": "independent", "y": "independent"}},
  "layer": [
    {
      "data": {"name": "b_exp"},
      "mark": {"type": "line", "color": "black", "strokeWidth": 1.3, "interpolate": "monotone"},
      "encoding": {
        "x": {"field": "strain", "type": "quantitative", "scale": {"domain": [0, 0.05], "nice": false}, "axis": {"orient": "bottom", "values": [0, 0.01, 0.02, 0.03, 0.04, 0.05], "format": "~g", "title": "Almansi strain [-]", "titlePadding": 8}},
        "y": {"field": "stress", "type": "quantitative", "scale": {"domain": [0, 25], "nice": false}, "axis": {"orient": "left", "values": [0, 5, 10, 15, 20, 25], "format": "~g", "title": "Cauchy stress [MPa]", "titlePadding": 22}},
        "detail": {"field": "leg", "type": "nominal"}
      }
    },
    {
      "data": {"name": "b_sim"},
      "mark": {"type": "line", "color": "#00ee00", "strokeWidth": 1.25, "interpolate": "monotone"},
      "encoding": {
        "x": {"field": "strain", "type": "quantitative", "scale": {"domain": [0, 0.05], "nice": false}, "axis": {"orient": "top", "values": [0, 0.01, 0.02, 0.03, 0.04, 0.05], "labels": false, "title": null}},
        "y": {"field": "stress", "type": "quantitative", "scale": {"domain": [0, 25], "nice": false}, "axis": {"orient": "right", "values": [0, 5, 10, 15, 20, 25], "labels": false, "title": null}},
        "detail": {"field": "leg", "type": "nominal"}
      }
    },
    {
      "data": {"values": [{"label": "Experimental Alfa/PP", "strain": 0.01566, "stress": 23.21}, {"label": "Simulation", "strain": 0.01566, "stress": 21.87}]},
      "mark": {"type": "text", "align": "right", "baseline": "alphabetic", "fontSize": 23, "color": "black"},
      "encoding": {
        "x": {"field": "strain", "type": "quantitative", "scale": {"domain": [0, 0.05], "nice": false}, "axis": null},
        "y": {"field": "stress", "type": "quantitative", "scale": {"domain": [0, 25], "nice": false}, "axis": null},
        "text": {"field": "label"}
      }
    },
    {
      "data": {"values": [{"strain": 0.01649, "strain2": 0.02007, "stress": 23.72}]},
      "mark": {"type": "rule", "color": "black", "strokeWidth": 1.3},
      "encoding": {
        "x": {"field": "strain", "type": "quantitative", "scale": {"domain": [0, 0.05], "nice": false}, "axis": null},
        "x2": {"field": "strain2"},
        "y": {"field": "stress", "type": "quantitative", "scale": {"domain": [0, 25], "nice": false}, "axis": null}
      }
    },
    {
      "data": {"values": [{"strain": 0.01649, "strain2": 0.02007, "stress": 22.39}]},
      "mark": {"type": "rule", "color": "#00ee00", "strokeWidth": 1.25},
      "encoding": {
        "x": {"field": "strain", "type": "quantitative", "scale": {"domain": [0, 0.05], "nice": false}, "axis": null},
        "x2": {"field": "strain2"},
        "y": {"field": "stress", "type": "quantitative", "scale": {"domain": [0, 25], "nice": false}, "axis": null}
      }
    },
    {
      "data": {"values": [{"label": "(b)", "strain": 0.04643, "stress": 22.18}]},
      "mark": {"type": "text", "align": "center", "baseline": "alphabetic", "fontSize": 30, "color": "black"},
      "encoding": {
        "x": {"field": "strain", "type": "quantitative", "scale": {"domain": [0, 0.05], "nice": false}, "axis": null},
        "y": {"field": "stress", "type": "quantitative", "scale": {"domain": [0, 25], "nice": false}, "axis": null},
        "text": {"field": "label"}
      }
    }
  ]
}
]
}
